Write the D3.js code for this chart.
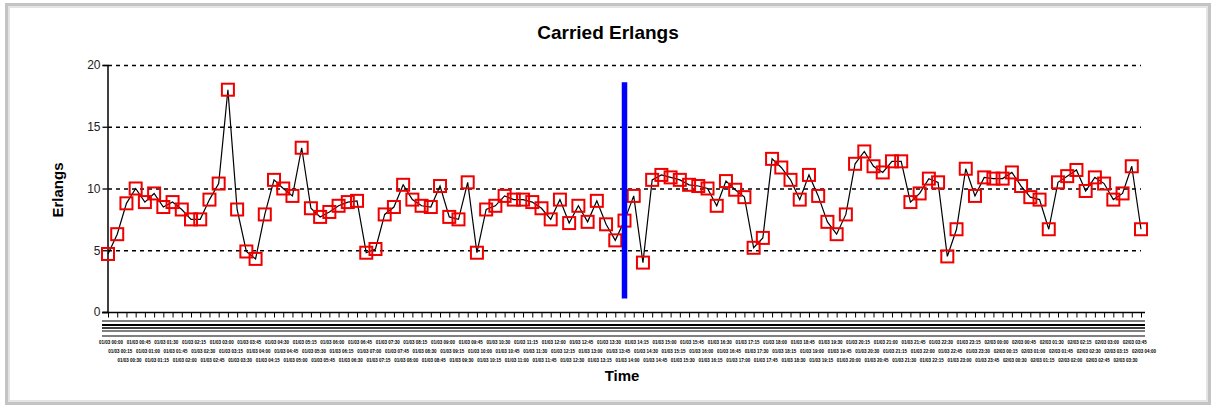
<!DOCTYPE html>
<html><head><meta charset="utf-8">
<script src="https://cdn.jsdelivr.net/npm/d3@7/dist/d3.min.js"></script>
<style>body{margin:0;background:#fff}svg{display:block}text{font-family:"Liberation Sans",Arial,sans-serif}</style>
</head><body><svg id="c" width="1214" height="406"></svg>
<script>
const title = "Carried Erlangs";
const yTitle = "Erlangs";
const xTitle = "Time";
const yTicks = [0, 5, 10, 15, 20];
const erlangs = [4.7,6.3,8.8,10.0,8.9,9.6,8.5,8.9,8.3,7.5,7.5,9.1,10.4,18.0,8.3,4.9,4.3,7.9,10.7,10.0,
9.4,13.3,8.4,7.7,8.1,8.6,8.9,9.0,4.8,5.1,7.9,8.5,10.3,9.1,8.6,8.5,10.2,7.7,7.5,10.5,
4.8,8.3,8.6,9.4,9.1,9.1,8.9,8.4,7.5,9.1,7.2,8.6,7.3,9.0,7.1,5.8,7.4,9.4,4.0,10.7,
11.1,10.9,10.7,10.3,10.2,10.0,8.6,10.6,9.9,9.3,5.2,6.0,12.4,11.7,10.7,9.1,11.1,9.4,7.3,6.3,
7.9,12.0,13.0,11.8,11.3,12.2,12.2,8.9,9.6,10.8,10.5,4.5,6.7,11.6,9.4,10.9,10.8,10.8,11.3,10.2,
9.3,9.1,6.7,10.5,11.0,11.5,9.8,10.9,10.4,9.1,9.6,11.8,6.7];
// time categories (illegible in the reference; one per sample)
const times = erlangs.map((_, i) => {
  const m = i * 15, h = Math.floor(m / 60) % 24, d = 1 + Math.floor(m / 1440);
  return `0${d}/03 ${String(h).padStart(2,"0")}:${String(m % 60).padStart(2,"0")}`;
});
const markerIndex = 56;
const markerRange = [1.1, 18.6];

const svg = d3.select("#c");
// frame
svg.append("rect").attr("x",6.5).attr("y",4.5).attr("width",1203).attr("height",399)
  .attr("fill","none").attr("stroke","#c4c4c4").attr("stroke-width",3);
svg.append("rect").attr("x",9).attr("y",7).attr("width",1198).attr("height",394)
  .attr("fill","none").attr("stroke","#e4e4e4").attr("stroke-width",2);

const x = d3.scalePoint().domain(times).range([108, 1141]);
const y = d3.scaleLinear().domain([0, 20]).range([312, 65]);

// grid
svg.append("g").selectAll("line").data(yTicks.filter(d => d > 0)).join("line")
  .attr("x1",108).attr("x2",1141).attr("y1",d=>y(d)+0.5).attr("y2",d=>y(d)+0.5)
  .attr("stroke","#000").attr("stroke-width",1.3).attr("stroke-dasharray","4,4");

// y axis
const ya = svg.append("g").attr("transform","translate(107.5,0)")
  .call(d3.axisLeft(y).tickValues(yTicks).tickSize(5).tickPadding(2));
ya.select(".domain").attr("stroke","#000").attr("stroke-width",1.5);
ya.selectAll("line").attr("stroke-width",1.3);
ya.selectAll("text").attr("font-size",12).attr("fill","#222");

// x axis ticks
const xa = svg.append("g").attr("transform","translate(0,312.5)")
  .call(d3.axisBottom(x).tickSize(5).tickFormat(""));
xa.select(".domain").attr("d","M102,0H1145").attr("stroke","#000").attr("stroke-width",1.5);
xa.selectAll(".tick line").attr("stroke-width",1);
// compressed label band lines
[[321,1.2],[325,2],[328,1.4],[331,1.2],[336,1.2]].forEach(([yy,w]) =>
  svg.append("line").attr("x1",102).attr("x2",1145).attr("y1",yy).attr("y2",yy)
    .attr("stroke","#000").attr("stroke-width",w));
// garbled time labels
const lab = svg.append("g");
[344, 353, 362].forEach((yy, r) => {
  lab.selectAll(null).data(times.filter((_, i) => i % 3 === r)).join("text")
    .attr("x", d => x(d) - 9).attr("y", yy)
    .attr("font-size", 5).attr("textLength", 24).attr("lengthAdjust","spacingAndGlyphs")
    .attr("font-weight","bold").attr("fill","#000")
    .text(d => d);
});

// line
svg.append("path").datum(erlangs)
  .attr("d", d3.line().x((d,i)=>x(times[i])).y(d=>y(d)))
  .attr("fill","none").attr("stroke","#000").attr("stroke-width",1.2);
// markers
svg.append("g").selectAll("rect").data(erlangs).join("rect")
  .attr("x",(d,i)=>x(times[i])-6).attr("y",d=>y(d)-6)
  .attr("width",12).attr("height",12)
  .attr("fill","none").attr("stroke","#ee0000").attr("stroke-width",2);

// blue marker line
svg.append("line").attr("x1",x(times[markerIndex])).attr("x2",x(times[markerIndex]))
  .attr("y1",y(markerRange[1])).attr("y2",y(markerRange[0]))
  .attr("stroke","#0000ff").attr("stroke-width",5.5);

// titles
svg.append("text").attr("x",608).attr("y",39).attr("text-anchor","middle")
  .attr("font-size",19).attr("font-weight","bold").text(title);
svg.append("text").attr("transform","translate(63,190) rotate(-90)").attr("text-anchor","middle")
  .attr("font-size",15).attr("font-weight","bold").text(yTitle);
svg.append("text").attr("x",622).attr("y",381).attr("text-anchor","middle")
  .attr("font-size",15).attr("font-weight","bold").text(xTitle);
</script></body></html>
